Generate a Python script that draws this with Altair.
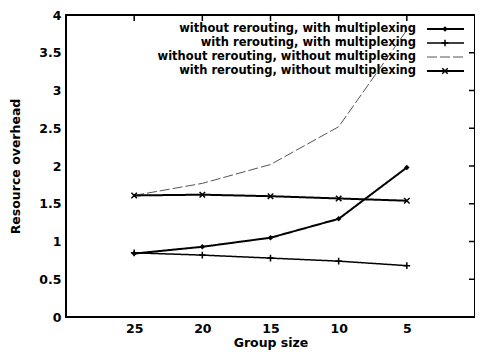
import altair as alt
import pandas as pd

group_sizes = [25, 20, 15, 10, 5]
series_names = [
    "without rerouting, with multiplexing",
    "with rerouting, with multiplexing",
    "without rerouting, without multiplexing",
    "with rerouting, without multiplexing",
]
s1 = [0.84, 0.93, 1.05, 1.30, 1.98]
s2 = [0.85, 0.82, 0.78, 0.74, 0.68]
s3 = [1.61, 1.77, 2.02, 2.52, 3.80]
s4 = [1.61, 1.62, 1.60, 1.57, 1.54]
y_ticks = [0, 0.5, 1, 1.5, 2, 2.5, 3, 3.5, 4]
x_ticks = [25, 20, 15, 10, 5]

W, H = 409, 302
FONT = "DejaVu Sans"

xs = alt.Scale(domain=[0, 30], reverse=True)
ys = alt.Scale(domain=[0, 4])

x_axis = alt.Axis(values=x_ticks, ticks=False, domain=False, grid=False,
                  labelPadding=5, titlePadding=2, labelOverlap=False)
y_axis = alt.Axis(values=y_ticks, ticks=False, domain=False, grid=False, format="~g",
                  labelPadding=5, titlePadding=16, labelOverlap=False)

styles = [
    dict(width=2.0, dash=[1, 0], shape="diamond", filled=True, size=30),
    dict(width=1.5, dash=[1, 0], shape="M-1,0L1,0M0,-1L0,1", filled=False, size=45),
    dict(width=1.0, dash=[10, 3], shape=None, filled=False, size=0),
    dict(width=2.0, dash=[1, 0], shape="M-1,-1L1,1M-1,1L1,-1", filled=False, size=30),
]
values = [s1, s2, s3, s4]
colors = ["black", "black", "#555555", "black"]

layers = []
for name, vals, st, col in zip(series_names, values, styles, colors):
    df = pd.DataFrame({"g": group_sizes, "v": vals, "s": name})
    base = alt.Chart(df).encode(
        x=alt.X("g:Q", scale=xs, title="Group size", axis=x_axis),
        y=alt.Y("v:Q", scale=ys, title="Resource overhead", axis=y_axis),
    )
    layers.append(base.mark_line(color=col, strokeWidth=st["width"], strokeDash=st["dash"]))
    if st["shape"]:
        layers.append(base.mark_point(shape=st["shape"], filled=st["filled"], size=st["size"],
                                      color=col, strokeWidth=1.5, opacity=1))

# inward ticks on top and right (mirror)
ytdf = pd.DataFrame({"t": y_ticks})
xtdf = pd.DataFrame({"t": x_ticks})
layers.append(alt.Chart(ytdf).mark_rule(color="black", strokeWidth=1.5).encode(
    x=alt.value(W - 6), x2=alt.value(W),
    y=alt.Y("t:Q", scale=ys, title="Resource overhead", axis=y_axis)))
layers.append(alt.Chart(xtdf).mark_rule(color="black", strokeWidth=1.5).encode(
    x=alt.X("t:Q", scale=xs, title="Group size", axis=x_axis), y=alt.value(0), y2=alt.value(6)))

# legend (gnuplot style: label left of sample)
leg_y = [14, 28, 42, 56]
for name, st, col, ly in zip(series_names, styles, colors, leg_y):
    ldf = pd.DataFrame({"s": [name], "ly": [ly]})
    lb = alt.Chart(ldf)
    layers.append(lb.mark_text(align="right", baseline="middle", font=FONT, fontWeight="bold",
                               fontSize=11.5, color="black").encode(
        x=alt.value(350), y=alt.value(ly), text="s:N"))
    layers.append(lb.mark_rule(color=col, strokeWidth=st["width"], strokeDash=st["dash"]).encode(
        x=alt.value(361), x2=alt.value(398), y=alt.value(ly)))
    if st["shape"]:
        layers.append(lb.mark_point(shape=st["shape"], filled=st["filled"], size=st["size"],
                                    color=col, strokeWidth=1.5, opacity=1).encode(
            x=alt.value(379), y=alt.value(ly)))

chart = alt.layer(*layers).properties(
    width=W, height=H,
    background="white",
    autosize=alt.AutoSizeParams(type="none"),
    padding={"left": 58, "top": 7, "right": 0, "bottom": 35},
).configure_view(stroke="black", strokeWidth=2).configure_axis(
    labelFont=FONT, titleFont=FONT, labelFontWeight="bold", titleFontWeight="bold",
    labelFontSize=12.5, titleFontSize=12.5, labelColor="black", titleColor="black",
)

chart.save("out.html", embed_options={"renderer": "svg", "actions": False})
